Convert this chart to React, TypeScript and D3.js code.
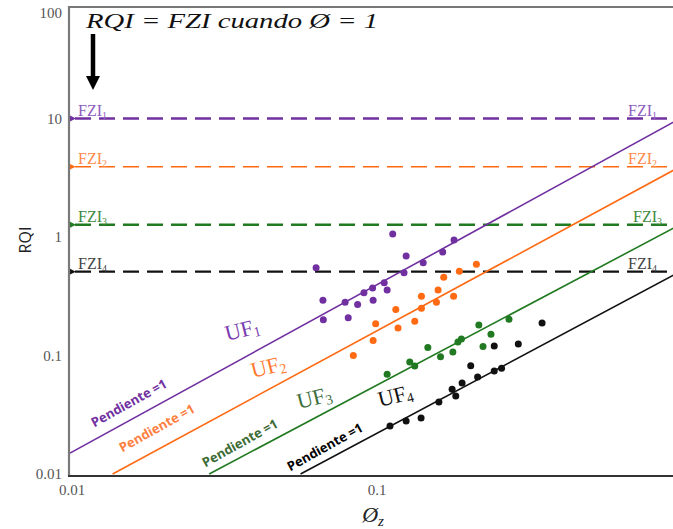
import React from "react";
import * as d3 from "d3";

// ---- Data ----
const phiTicks = [0.01, 0.1];
const rqiTicks = [0.01, 0.1, 1, 10, 100];
const fziValues = [10, 3.92, 1.27, 0.51];
const unitIndex = ["1", "2", "3", "4"];
const lineStartPhi = [0.01, 0.0138, 0.0286, 0.057];
const lineStartRqi = [0.015, 0.01, 0.01, 0.01];
const lineEndPhi = 1;

const uf1Phi = [0.1143, 0.1816, 0.1265, 0.1667, 0.1439, 0.0641, 0.1245, 0.1072, 0.0982, 0.092, 0.1096, 0.0675, 0.0798, 0.0877, 0.0986, 0.0677, 0.0817];
const uf1Rqi = [1.06, 0.944, 0.692, 0.746, 0.607, 0.551, 0.5, 0.411, 0.372, 0.339, 0.357, 0.292, 0.282, 0.27, 0.292, 0.2, 0.208];
const uf2Phi = [0.215, 0.189, 0.168, 0.161, 0.142, 0.181, 0.159, 0.142, 0.117, 0.135, 0.1005, 0.119, 0.0986, 0.0849];
const uf2Rqi = [0.589, 0.514, 0.457, 0.357, 0.316, 0.316, 0.281, 0.25, 0.245, 0.195, 0.185, 0.171, 0.134, 0.1];
const uf3Phi = [0.275, 0.219, 0.24, 0.192, 0.187, 0.149, 0.226, 0.164, 0.18, 0.13, 0.135, 0.1096];
const uf3Rqi = [0.202, 0.181, 0.151, 0.138, 0.13, 0.117, 0.119, 0.0977, 0.107, 0.088, 0.0815, 0.0693];
const uf4Phi = [0.353, 0.295, 0.246, 0.206, 0.26, 0.246, 0.217, 0.193, 0.179, 0.184, 0.162, 0.1416, 0.1265, 0.112];
const uf4Rqi = [0.188, 0.125, 0.12, 0.082, 0.078, 0.074, 0.066, 0.0586, 0.052, 0.0455, 0.0405, 0.0297, 0.028, 0.0254];

const seriesPhi = [uf1Phi, uf2Phi, uf3Phi, uf4Phi];
const seriesRqi = [uf1Rqi, uf2Rqi, uf3Rqi, uf4Rqi];

// ---- Styles ----
const colors = ["#7030A0", "#FF6A13", "#217A21", "#111111"];
const labelColors = ["#8E5CC0", "#FF8A4A", "#3E8A3E", "#444444"];
const dashWidths = [2.5, 1.6, 2.6, 2.2];

const W = 673;
const H = 529;
const left = 70;
const top = 7;
const bottom = 475;

export default function App() {
  const x = d3.scaleLog().domain([0.01, 1]).range([left, 680]);
  const y = d3.scaleLog().domain([0.01, 100]).range([474, 0]);
  const serif = "'Liberation Serif', 'DejaVu Serif', serif";
  const sans = "'Open Sans', 'Liberation Sans', sans-serif";
  const fmt = (v: number) => String(v);

  const ufLabelPos = [
    [227, 341],
    [253, 378],
    [299, 409],
    [380, 407],
  ];
  const ufLabelColors = ["#7A3CB0", "#FF7A30", "#3C6E3C", "#111111"];
  const pendPos = [
    [129, 403],
    [157, 428],
    [240, 443],
    [325, 447],
  ];
  const pendColors = ["#7030A0", "#FF7F3F", "#3D6B35", "#000000"];

  return (
    <svg width={W} height={H} style={{ position: "absolute", left: 0, top: 0, background: "#fff" }}>
      <defs>
        <clipPath id="plot">
          <rect x={left} y={top} width={W - left} height={bottom - top} />
        </clipPath>
        {colors.map((c, i) => (
          <marker key={i} id={`arr${i}`} viewBox="0 0 10 10" refX="1" refY="5" markerWidth="4" markerHeight="4" orient="auto-start-reverse">
            <path d="M10,0 L0,5 L10,10 z" fill={c} />
          </marker>
        ))}
      </defs>

      {/* y tick labels */}
      {rqiTicks.map((t) => (
        <text key={t} x={62} y={Math.max(y(t), 13)} dy="0.35em" textAnchor="end" fontFamily={serif} fontSize={15} fill="#555">
          {fmt(t)}
        </text>
      ))}
      {/* x tick labels */}
      {phiTicks.map((t) => (
        <text key={t} x={x(t) + 2} y={490} dy="0.35em" textAnchor="middle" fontFamily={serif} fontSize={15} fill="#555">
          {fmt(t)}
        </text>
      ))}

      {/* axis titles */}
      <text transform="translate(31,240) rotate(-90)" textAnchor="middle" fontFamily={sans} fontSize={16} fill="#222">
        RQI
      </text>
      <text x={373} y={522} textAnchor="middle" fontFamily={serif} fontStyle="italic" fontSize={22} fill="#222">
        Ø<tspan fontSize={15} dy={4}>z</tspan>
      </text>

      <g clipPath="url(#plot)">
        {/* dashed FZI lines */}
        {fziValues.map((f, i) => (
          <line
            key={i}
            x1={x(0.01) + 5}
            x2={W + 10}
            y1={y(f)}
            y2={y(f)}
            stroke={colors[i]}
            strokeWidth={dashWidths[i]}
            strokeDasharray="16 8"
            markerStart={`url(#arr${i})`}
          />
        ))}
        {/* UF lines */}
        {fziValues.map((f, i) => (
          <line
            key={i}
            x1={x(lineStartPhi[i])}
            y1={y(lineStartRqi[i])}
            x2={x(lineEndPhi)}
            y2={y(f)}
            stroke={colors[i]}
            strokeWidth={1.6}
          />
        ))}
        {/* points */}
        {seriesPhi.map((arr, i) =>
          arr.map((p, j) => (
            <circle key={`${i}-${j}`} cx={x(p)} cy={y(seriesRqi[i][j])} r={3.5} fill={colors[i]} />
          ))
        )}
      </g>

      {/* frame */}
      <line x1={left - 1} x2={W} y1={top} y2={top} stroke="#777" strokeWidth={2} />
      <line x1={left - 1} x2={left - 1} y1={top - 1} y2={bottom + 1} stroke="#7a7a7a" strokeWidth={2.2} />
      <line x1={left - 2} x2={W} y1={bottom + 1} y2={bottom + 1} stroke="#333" strokeWidth={2.2} />

      {/* FZI labels */}
      {fziValues.map((f, i) => (
        <g key={i}>
          <text x={78} y={y(f) - 3} fontFamily={serif} fontSize={16} fill={labelColors[i]}>
            FZI<tspan fontSize={10} dy={3}>{unitIndex[i]}</tspan>
          </text>
          <text x={i === 2 ? 633 : 628} y={y(f) - 3} fontFamily={serif} fontSize={16} fill={labelColors[i]}>
            FZI<tspan fontSize={10} dy={3}>{unitIndex[i]}</tspan>
          </text>
        </g>
      ))}

      {/* UF labels */}
      {ufLabelPos.map((p, i) => (
        <text key={i} transform={`translate(${p[0]},${p[1]}) rotate(-14)`} fontFamily={serif} fontSize={22} fill={ufLabelColors[i]}>
          UF<tspan fontSize={14} dy={3}>{unitIndex[i]}</tspan>
        </text>
      ))}

      {/* Pendiente labels */}
      {pendPos.map((p, i) => (
        <text key={i} transform={`translate(${p[0]},${p[1]}) rotate(-29)`} textAnchor="middle" dy="0.35em" fontFamily={sans} fontWeight="bold" fontSize={13} fill={pendColors[i]}>
          Pendiente =1
        </text>
      ))}

      {/* Title */}
      <text x={86} y={28} fontFamily={serif} fontStyle="italic" fontSize={22} fill="#111" textLength={292} lengthAdjust="spacingAndGlyphs">
        RQI = FZI cuando Ø = 1
      </text>
      {/* black arrow */}
      <line x1={93} x2={93} y1={34} y2={78} stroke="#000" strokeWidth={4.5} />
      <path d="M86,76 L100,76 L93,90 Z" fill="#000" />
    </svg>
  );
}
